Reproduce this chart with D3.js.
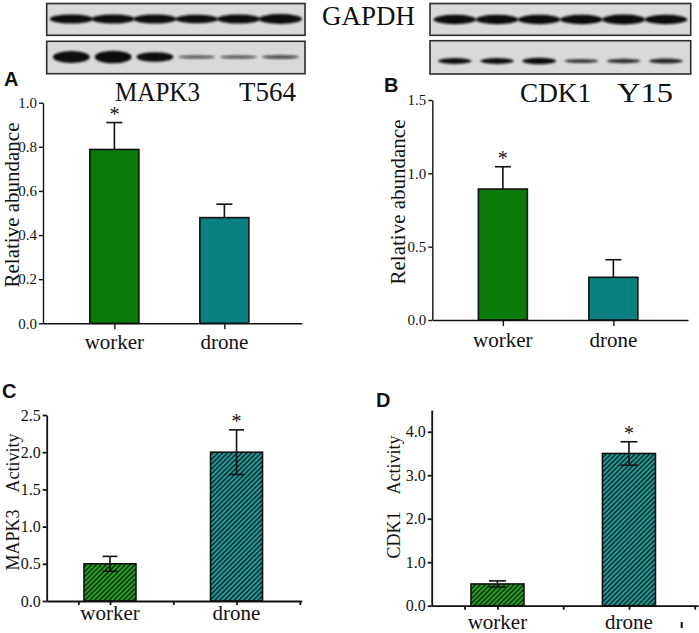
<!DOCTYPE html>
<html>
<head>
<meta charset="utf-8">
<script src="https://cdn.jsdelivr.net/npm/d3@7"></script>
<style>
body { margin: 0; background: #fff; }
svg text { font-family: "Liberation Serif", "Times New Roman", serif; }
svg text.letter { font-family: "Liberation Sans", Arial, sans-serif; font-weight: bold; }
</style>
</head>
<body>
<svg id="fig" width="699" height="633"></svg>
<script>
var groups = ["worker", "drone"];

// A: MAPK3 T564, relative abundance
var abundMapk = [0.788, 0.479];
var abundMapkErr = [0.122, 0.061];
// B: CDK1 Y15, relative abundance
var abundCdk = [0.893, 0.291];
var abundCdkErr = [0.152, 0.12];
// C: MAPK3 activity
var actMapk = [0.5, 2.0];
var actMapkErr = [0.1, 0.3];
// D: CDK1 activity
var actCdk = [0.5, 3.5];
var actCdkErr = [0.07, 0.27];

var ticksA = [0, 0.2, 0.4, 0.6, 0.8, 1.0];
var ticksB = [0, 0.5, 1.0, 1.5];
var ticksC = [0, 0.5, 1.0, 1.5, 2.0, 2.5];
var ticksD = [0, 1, 2, 3, 4];
var xTicksOrigin = [0.5, 1, 2, 3, 4];
var groupPos = [1, 3];

// blot band strength per lane
var gapdhLeft = [1, 1, 1, 0.95, 1, 1.1];
var mapkBands = [1, 1.05, 0.8, 0.3, 0.3, 0.33];
var gapdhRight = [1, 1, 1, 1, 1.05, 1];
var cdkBands = [0.65, 0.65, 0.7, 0.45, 0.5, 0.55];

var svg = d3.select("#fig");
var defs = svg.append("defs");

defs.append("filter").attr("id", "soft")
	.attr("x", "-20%").attr("y", "-100%").attr("width", "140%").attr("height", "300%")
	.append("feGaussianBlur").attr("stdDeviation", 0.9);

function hatch(id, color)
{
	var p = defs.append("pattern")
		.attr("id", id)
		.attr("patternUnits", "userSpaceOnUse")
		.attr("width", 3.4)
		.attr("height", 3.4)
		.attr("patternTransform", "rotate(45)");
	p.append("rect").attr("width", 3.4).attr("height", 3.4).attr("fill", color);
	p.append("line")
		.attr("x1", 1.7).attr("y1", 0).attr("x2", 1.7).attr("y2", 3.4)
		.attr("stroke", "#0b1a12").attr("stroke-width", 1.3);
}
hatch("hatchGreen", "#27a41f");
hatch("hatchTeal", "#229c9c");

function blot(x0, x1, y0, y1, bandY, strengths, thick, widthFrac)
{
	var g = svg.append("g");
	g.append("rect")
		.attr("x", x0).attr("y", y0)
		.attr("width", x1 - x0).attr("height", y1 - y0)
		.attr("fill", "#d9d9d9")
		.attr("stroke", "#2b2b2b")
		.attr("stroke-width", 1.6);
	var lane = d3.scaleBand()
		.domain(d3.range(strengths.length))
		.range([x0 + 5, x1 - 5])
		.paddingInner(0.06);
	g.selectAll("ellipse")
		.data(strengths)
		.enter().append("ellipse")
			.attr("cx", function(d, i){return lane(i) + lane.bandwidth() / 2;})
			.attr("cy", bandY)
			.attr("rx", lane.bandwidth() / 2 * widthFrac)
			.attr("ry", function(d){return thick * d / 2;})
			.attr("fill", "#111")
			.attr("fill-opacity", function(d){return 0.35 + 0.65 * Math.min(1, d * 1.5);})
			.attr("filter", "url(#soft)");
}

blot(46.7, 305, 3.5, 35.3, 19, gapdhLeft, 9, 1.1);
blot(46.7, 305, 41.3, 73.7, 57, mapkBands, 12, 0.94);
blot(430, 690.7, 3.5, 35.3, 19.5, gapdhRight, 9.5, 1.08);
blot(430, 690.7, 40.7, 74, 61, cdkBands, 9, 0.85);

function title(txt, x, y, len, size)
{
	svg.append("text")
		.attr("x", x).attr("y", y)
		.attr("font-size", size)
		.attr("textLength", len)
		.attr("lengthAdjust", "spacingAndGlyphs")
		.attr("fill", "#111")
		.text(txt);
}
title("GAPDH", 322, 25, 93, 27);
title("MAPK3", 115, 101, 85, 27);
title("T564", 239, 101, 57, 27);
title("CDK1", 520, 102, 71, 27);
title("Y15", 617, 102, 56, 28);

function panelLetter(txt, x, y)
{
	svg.append("text")
		.attr("class", "letter")
		.attr("x", x).attr("y", y)
		.attr("font-size", 20)
		.attr("fill", "#111")
		.text(txt);
}
panelLetter("A", 4, 86);
panelLetter("B", 384, 92);
panelLetter("C", 2, 398);
panelLetter("D", 376, 407);

function barPanel(o)
{
	var g = svg.append("g");
	var y = d3.scaleLinear().domain(o.yDomain).range([o.yBase, o.yTop]);
	var x, xOf;
	if(o.origin)
	{
		x = d3.scaleLinear().domain(o.xDomain).range([o.x0, o.x1]);
		xOf = function(i){return x(groupPos[i]);};
	} else
	{
		x = d3.scalePoint().domain(groups).range([o.x0, o.x1])
			.padding(o.pad).align(o.align);
		xOf = function(i){return x(groups[i]);};
	}

	var data = o.values.map(function(v, i){return {v: v, e: o.errs[i], i: i};});

	g.selectAll(".bar")
		.data(data)
		.enter().append("rect")
			.attr("class", "bar")
			.attr("x", function(d){return xOf(d.i) - o.barW / 2;})
			.attr("width", o.barW)
			.attr("y", function(d){return y(d.v);})
			.attr("height", function(d){return y(0) - y(d.v);})
			.attr("fill", function(d){return o.fills[d.i];})
			.attr("stroke", "#111")
			.attr("stroke-width", 1.6);

	var err = g.selectAll(".err")
		.data(data)
		.enter().append("g")
			.attr("class", "err")
			.attr("stroke", "#111")
			.attr("stroke-width", 1.6);
	err.append("line")
		.attr("x1", function(d){return xOf(d.i);})
		.attr("x2", function(d){return xOf(d.i);})
		.attr("y1", function(d){return o.both ? y(d.v - d.e) : y(d.v);})
		.attr("y2", function(d){return y(d.v + d.e);});
	err.append("line")
		.attr("x1", function(d){return xOf(d.i) - o.capW / 2;})
		.attr("x2", function(d){return xOf(d.i) + o.capW / 2;})
		.attr("y1", function(d){return y(d.v + d.e);})
		.attr("y2", function(d){return y(d.v + d.e);});
	if(o.both)
	{
		err.append("line")
			.attr("x1", function(d){return xOf(d.i) - o.capW / 2;})
			.attr("x2", function(d){return xOf(d.i) + o.capW / 2;})
			.attr("y1", function(d){return y(d.v - d.e);})
			.attr("y2", function(d){return y(d.v - d.e);});
	}

	// significance star above the higher group
	var top = data[o.star];
	g.append("text")
		.attr("x", xOf(top.i))
		.attr("y", y(top.v + top.e) - 2)
		.attr("text-anchor", "middle")
		.attr("font-size", 20)
		.attr("fill", "#111")
		.text("*");

	var yAxis = g.append("g")
		.attr("transform", "translate(" + o.x0 + ",0)")
		.call(d3.axisLeft(y).tickValues(o.ticks).tickFormat(d3.format(".1f"))
			.tickSize(4).tickSizeOuter(0).tickPadding(2));
	var xAxisGen = o.origin
		? d3.axisBottom(x).tickValues(xTicksOrigin).tickFormat("").tickSize(4).tickSizeOuter(0)
		: d3.axisBottom(x).tickFormat("").tickSize(6).tickSizeOuter(0);
	var xAxis = g.append("g")
		.attr("transform", "translate(0," + o.yBase + ")")
		.call(xAxisGen);

	[yAxis, xAxis].forEach(function(a)
	{
		a.selectAll("path, line").attr("stroke", "#111").attr("stroke-width", o.axisW);
		a.selectAll("text")
			.attr("font-size", o.tickFont)
			.attr("fill", "#111");
	});

	g.selectAll(".xlab")
		.data(groups)
		.enter().append("text")
			.attr("class", "xlab")
			.attr("x", function(d, i){return xOf(i);})
			.attr("y", o.labelBase)
			.attr("text-anchor", "middle")
			.attr("font-size", 21)
			.attr("fill", "#111")
			.text(function(d){return d;});

	g.append("text")
		.attr("transform", "translate(" + o.yLabX + "," + o.yLabY + ") rotate(-90)")
		.attr("text-anchor", "middle")
		.attr("dy", "0.35em")
		.attr("font-size", o.yLabFont)
		.attr("fill", "#111")
		.style("white-space", "pre")
		.text(o.yLabel);
}

barPanel({
	x0: 43, x1: 301.7, yTop: 102.7, yBase: 323.3,
	yDomain: [0, 1], ticks: ticksA, pad: 0.676, align: 0.48,
	values: abundMapk, errs: abundMapkErr, star: 0,
	fills: ["#0a7a0a", "#0a8080"], barW: 49, capW: 16, both: false,
	axisW: 1.4, tickFont: 15, labelBase: 349,
	yLabel: "Relative abundance", yLabX: 12, yLabY: 205, yLabFont: 21
});

barPanel({
	x0: 432.3, x1: 688, yTop: 100, yBase: 320,
	yDomain: [0, 1.5], ticks: ticksB, pad: 0.657, align: 0.486,
	values: abundCdk, errs: abundCdkErr, star: 0,
	fills: ["#0a7a0a", "#0a8080"], barW: 49, capW: 16, both: false,
	axisW: 1.4, tickFont: 15, labelBase: 347,
	yLabel: "Relative abundance", yLabX: 398, yLabY: 202, yLabFont: 21
});

barPanel({
	origin: true, x0: 46.7, x1: 301.7, xDomain: [0, 4.03], yTop: 415, yBase: 601,
	yDomain: [0, 2.5], ticks: ticksC,
	values: actMapk, errs: actMapkErr, star: 1,
	fills: ["url(#hatchGreen)", "url(#hatchTeal)"], barW: 52, capW: 15, both: true,
	axisW: 1.8, tickFont: 16, labelBase: 620,
	yLabel: "MAPK3    Activity", yLabX: 13, yLabY: 502, yLabFont: 18
});

barPanel({
	origin: true, x0: 431.7, x1: 698, xDomain: [0, 4.05], yTop: 410, yBase: 605.7,
	yDomain: [0, 4.5], ticks: ticksD,
	values: actCdk, errs: actCdkErr, star: 1,
	fills: ["url(#hatchGreen)", "url(#hatchTeal)"], barW: 53, capW: 17, both: true,
	axisW: 1.8, tickFont: 16, labelBase: 629,
	yLabel: "CDK1    Activity", yLabX: 394, yLabY: 497, yLabFont: 18
});

// small stray mark under panel D
svg.append("line")
	.attr("x1", 681.7).attr("x2", 681.7)
	.attr("y1", 622).attr("y2", 628)
	.attr("stroke", "#111").attr("stroke-width", 2);
</script>
</body>
</html>
